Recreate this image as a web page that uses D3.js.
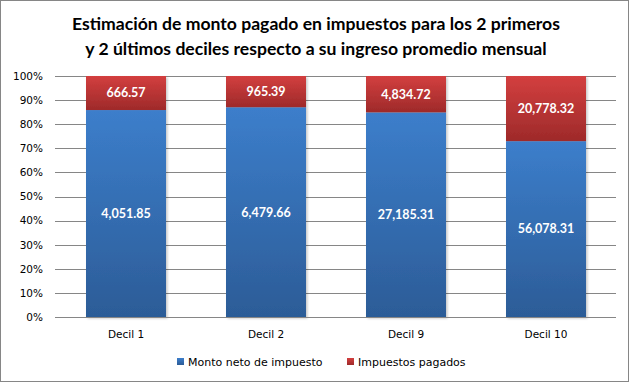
<!DOCTYPE html>
<html>
<head>
<meta charset="utf-8">
<script src="https://cdn.jsdelivr.net/npm/d3@7"></script>
<style>
  body { margin: 0; background: #fff; }
  svg { display: block; }
</style>
</head>
<body>
<div class="container"></div>
<script>
var categories = ["Decil 1", "Decil 2", "Decil 9", "Decil 10"];
var netAmount = [4051.85, 6479.66, 27185.31, 56078.31];
var taxesPaid = [666.57, 965.39, 4834.72, 20778.32];
var seriesNames = ["Monto neto de impuesto", "Impuestos pagados"];
var yTicks = [0, 0.1, 0.2, 0.3, 0.4, 0.5, 0.6, 0.7, 0.8, 0.9, 1];
var titleLines = ["Estimación de monto pagado en impuestos para los 2 primeros",
                  "y 2 últimos deciles respecto a su ingreso promedio mensual"];

var width = 633, height = 386;
var svg = d3.select('.container').append('svg')
    .attr('width', width).attr('height', height);

var defs = svg.append('defs');
function grad(id, c1, c2){
    var g = defs.append('linearGradient').attr('id', id)
        .attr('x1', 0).attr('y1', 0).attr('x2', 0).attr('y2', 1);
    g.append('stop').attr('offset', '0%').attr('stop-color', c1);
    g.append('stop').attr('offset', '100%').attr('stop-color', c2);
}
grad('gBlue', '#3c7ecb', '#2c5c97');
grad('gRed', '#d33f3f', '#9e2a2a');
var sh = defs.append('filter').attr('id', 'shadow')
    .attr('x', '-10%').attr('y', '-10%').attr('width', '130%').attr('height', '130%');
sh.append('feDropShadow').attr('dx', 1.5).attr('dy', 1.5).attr('stdDeviation', 1.2)
    .attr('flood-color', '#000').attr('flood-opacity', 0.22);

// border
svg.append('rect').attr('x', 0.5).attr('y', 0.5).attr('width', 628).attr('height', 381)
    .attr('fill', '#fff').attr('stroke', '#868686');

// title
svg.append('g').selectAll('text').data(titleLines).enter().append('text')
    .attr('x', 316).attr('y', function(d, i){ return 30 + i * 25; })
    .attr('text-anchor', 'middle')
    .style('font-family', 'Lato, "Open Sans", sans-serif')
    .style('font-weight', 'bold').style('font-size', '17.6px').style('fill', '#000')
    .text(function(d){ return d; });

var x = d3.scaleBand().domain(categories).range([56, 616]).paddingInner(60/140).paddingOuter(30/140);
var y = d3.scaleLinear().domain([0, 1]).range([317, 76]);

// gridlines
svg.append('g').selectAll('line').data(yTicks).enter().append('line')
    .attr('x1', 55).attr('x2', 616)
    .attr('y1', function(d){ return Math.round(y(d)) + 0.5; })
    .attr('y2', function(d){ return Math.round(y(d)) + 0.5; })
    .attr('stroke', '#868686').attr('stroke-width', 1);

// y axis labels
var yAxis = d3.axisLeft(y).tickValues(yTicks).tickFormat(d3.format('.0%')).tickSize(0).tickPadding(0);
var ya = svg.append('g').attr('transform', 'translate(43,0)').call(yAxis);
ya.select('.domain').remove();
ya.selectAll('text').style('font-family', '"DejaVu Sans", Verdana, sans-serif')
    .style('font-size', '10.5px').style('fill', '#000');

// stacked bars
var rows = categories.map(function(c, i){
    var tot = netAmount[i] + taxesPaid[i];
    return { cat: c, net: netAmount[i], tax: taxesPaid[i], pNet: netAmount[i] / tot };
});

var bars = svg.append('g').selectAll('g').data(rows).enter().append('g');
var shapes = bars.append('g').attr('filter', 'url(#shadow)');
shapes.append('rect')
    .attr('x', function(d){ return x(d.cat); }).attr('width', x.bandwidth())
    .attr('y', function(d){ return y(d.pNet); })
    .attr('height', function(d){ return y(0) - y(d.pNet); })
    .attr('fill', 'url(#gBlue)');
shapes.append('rect')
    .attr('x', function(d){ return x(d.cat); }).attr('width', x.bandwidth())
    .attr('y', y(1))
    .attr('height', function(d){ return y(d.pNet) - y(1); })
    .attr('fill', 'url(#gRed)');

var fmt = d3.format(',.2f');
function label(sel, yv, val){
    sel.append('text')
        .attr('x', function(d){ return x(d.cat) + x.bandwidth() / 2; })
        .attr('y', yv).attr('dy', '0.35em').attr('text-anchor', 'middle')
        .style('font-family', 'Lato, "Open Sans", sans-serif')
        .style('font-weight', 'bold').style('font-size', '12.5px').style('fill', '#fff')
        .text(val);
}
label(bars, function(d){ return (y(0) + y(d.pNet)) / 2; }, function(d){ return fmt(d.net); });
label(bars, function(d){ return (y(1) + y(d.pNet)) / 2; }, function(d){ return fmt(d.tax); });

// x axis
svg.append('line').attr('x1', 55).attr('x2', 616).attr('y1', 317.5).attr('y2', 317.5)
    .attr('stroke', '#868686');
svg.append('g').selectAll('text').data(categories).enter().append('text')
    .attr('x', function(d){ return x(d) + x.bandwidth() / 2; })
    .attr('y', 334).attr('dy', '0.35em').attr('text-anchor', 'middle')
    .style('font-family', '"DejaVu Sans", Verdana, sans-serif').style('font-size', '10.5px')
    .text(function(d){ return d; });

// legend
var legX = [177, 347];
var leg = svg.append('g').selectAll('g').data(seriesNames).enter().append('g')
    .attr('transform', function(d, i){ return 'translate(' + legX[i] + ',358)'; });
leg.append('rect').attr('width', 7).attr('height', 7)
    .attr('fill', function(d, i){ return i === 0 ? 'url(#gBlue)' : 'url(#gRed)'; });
leg.append('text').attr('x', 11).attr('y', 4).attr('dy', '0.35em')
    .style('font-family', '"DejaVu Sans", Verdana, sans-serif').style('font-size', '11px')
    .text(function(d){ return d; });
</script>
</body>
</html>
